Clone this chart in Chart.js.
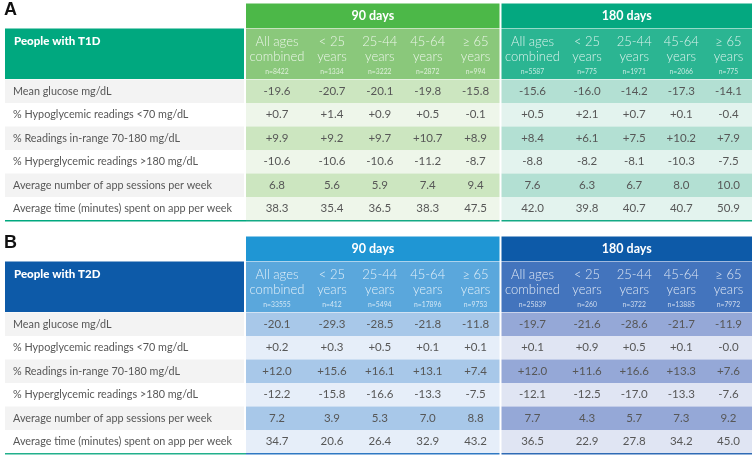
<!DOCTYPE html>
<html><head><meta charset="utf-8">
<script src="https://cdn.jsdelivr.net/npm/chart.js@4.4.1/dist/chart.umd.min.js"></script>
<style>html,body{margin:0;padding:0;background:#fff;}#wrap{width:755px;height:458px;position:relative;}</style>
</head><body><div id="wrap"><canvas id="c"></canvas></div>
<script>
// ---------- DATA ----------
const panelLetters = ["A", "B"];
const groupTitles = ["People with T1D", "People with T2D"];
const periods = ["90 days", "180 days"];
const ageLines = [["All ages", "combined"], ["< 25", "years"], ["25-44", "years"], ["45-64", "years"], ["\u2265 65", "years"]];
const rowLabels = [
  "Mean glucose mg/dL",
  "% Hypoglycemic readings <70 mg/dL",
  "% Readings in-range 70-180 mg/dL",
  "% Hyperglycemic readings >180 mg/dL",
  "Average number of app sessions per week",
  "Average time (minutes) spent on app per week"
];
const signedRows = [true, true, true, true, false, false];

const t1dN90 = ["n=8422", "n=1334", "n=3222", "n=2872", "n=994"];
const t1dN180 = ["n=5587", "n=775", "n=1971", "n=2066", "n=775"];
const t2dN90 = ["n=33555", "n=412", "n=5494", "n=17896", "n=9753"];
const t2dN180 = ["n=25839", "n=260", "n=3722", "n=13885", "n=7972"];

const t1d90 = [
  [-19.6, -20.7, -20.1, -19.8, -15.8],
  [0.7, 1.4, 0.9, 0.5, -0.1],
  [9.9, 9.2, 9.7, 10.7, 8.9],
  [-10.6, -10.6, -10.6, -11.2, -8.7],
  [6.8, 5.6, 5.9, 7.4, 9.4],
  [38.3, 35.4, 36.5, 38.3, 47.5]
];
const t1d180 = [
  [-15.6, -16.0, -14.2, -17.3, -14.1],
  [0.5, 2.1, 0.7, 0.1, -0.4],
  [8.4, 6.1, 7.5, 10.2, 7.9],
  [-8.8, -8.2, -8.1, -10.3, -7.5],
  [7.6, 6.3, 6.7, 8.0, 10.0],
  [42.0, 39.8, 40.7, 40.7, 50.9]
];
const t2d90 = [
  [-20.1, -29.3, -28.5, -21.8, -11.8],
  [0.2, 0.3, 0.5, 0.1, 0.1],
  [12.0, 15.6, 16.1, 13.1, 7.4],
  [-12.2, -15.8, -16.6, -13.3, -7.5],
  [7.2, 3.9, 5.3, 7.0, 8.8],
  [34.7, 20.6, 26.4, 32.9, 43.2]
];
const t2d180 = [
  [-19.7, -21.6, -28.6, -21.7, -11.9],
  [0.1, 0.9, 0.5, 0.1, -0.0],
  [12.0, 11.6, 16.6, 13.3, 7.6],
  [-12.1, -12.5, -17.0, -13.3, -7.6],
  [7.7, 4.3, 5.7, 7.3, 9.2],
  [36.5, 22.9, 27.8, 34.2, 45.0]
];

// ---------- LAYOUT / STYLE ----------
const W = 755, H = 458;
const LAY = { labelX0: 5, labelX1: 244, sections: [[246, 499.5], [501.5, 752]], firstColW: 62,
  headH: 25, subH: 51, rowH: 23.5, tops: [3.5, 236.5] };
const FONT = "Lato, 'Noto Sans', sans-serif";
const THEMES = [
  { title: "#00a87f", head: ["#4cb848", "#04a880"], sub: ["#8ac87b", "#2bb592"],
    dark: ["#cce6c0", "#b3e0d3"], light: ["#eef6ea", "#e3f3ee"], lineL: "#00a87f", lineR: ["#15a985", "#15a985"] },
  { title: "#0d5aa8", head: ["#1f96d4", "#0d5aa8"], sub: ["#5aa7dc", "#4374bd"],
    dark: ["#a8c8e9", "#95a8d7"], light: ["#e6eef9", "#e0e5f3"], lineL: "#22b08c", lineR: ["#2f79c3", "#2f6bb5"] }
];
const tables = [
  { vals: [t1d90, t1d180], ns: [t1dN90, t1dN180] },
  { vals: [t2d90, t2d180], ns: [t2dN90, t2dN180] }
];

function fmt(v, signed) {
  if (Object.is(v, -0)) return "-0.0";
  return (signed && v > 0 ? "+" : "") + v.toFixed(1);
}
function colEdges(sec) {
  const [a, b] = sec; const rest = (b - a - LAY.firstColW) / 4;
  const e = [a, a + LAY.firstColW];
  for (let i = 1; i < 4; i++) e.push(a + LAY.firstColW + rest * i);
  e.push(b); return e;
}

const tablePlugin = {
  id: "tablePlugin",
  afterDraw(chart) {
    const ctx = chart.ctx, xs = chart.scales.x, ys = chart.scales.y;
    const X = v => xs.getPixelForValue(v), Y = v => ys.getPixelForValue(v);
    const rect = (x0, y0, x1, y1, c) => { ctx.fillStyle = c; ctx.fillRect(X(x0), Y(y0), X(x1) - X(x0), Y(y1) - Y(y0)); };
    const text = (s, x, y, font, color, align) => {
      ctx.font = font; ctx.fillStyle = color; ctx.textAlign = align || "center"; ctx.textBaseline = "middle";
      ctx.fillText(s, X(x), Y(y));
    };
    ctx.save();
    tables.forEach((tb, t) => {
      const th = THEMES[t];
      const top = LAY.tops[t];
      const subTop = top + LAY.headH, rowTop = subTop + LAY.subH;
      const bottom = rowTop + LAY.rowH * rowLabels.length;
      text(panelLetters[t], LAY.labelX0 - 1, top + 6.5, "bold 18px 'Liberation Sans', Arial, sans-serif", "#111", "left");
      rect(LAY.labelX0, subTop, LAY.labelX1, rowTop - 0.5, th.title);
      text(groupTitles[t], LAY.labelX0 + 9, subTop + 13, "900 11.5px " + FONT, "#ffffff", "left");
      rowLabels.forEach((lab, r) => {
        const y0 = rowTop + r * LAY.rowH;
        rect(LAY.labelX0, y0, LAY.labelX1, y0 + LAY.rowH, r % 2 === 0 ? "#f3f3f3" : "#ffffff");
        text(lab, LAY.labelX0 + 8, y0 + LAY.rowH / 2, "10.8px " + FONT, "#575757", "left");
      });
      LAY.sections.forEach((sec, s) => {
        const e = colEdges(sec);
        rect(sec[0], top, sec[1], subTop - 0.5, th.head[s]);
        text(periods[s], (sec[0] + sec[1]) / 2, top + LAY.headH / 2, "bold 12.5px " + FONT, "#ffffff");
        rect(sec[0], subTop, sec[1], rowTop - 0.5, th.sub[s]);
        for (let c = 0; c < 5; c++) {
          const cx = (e[c] + e[c + 1]) / 2;
          text(ageLines[c][0], cx, subTop + 13.5, "300 13px " + FONT, "rgba(255,255,255,0.82)");
          text(ageLines[c][1], cx, subTop + 28, "300 13px " + FONT, "rgba(255,255,255,0.82)");
          text(tb.ns[s][c], cx, subTop + 43, "6.8px " + FONT, "rgba(255,255,255,0.72)");
        }
        tb.vals[s].forEach((row, r) => {
          const y0 = rowTop + r * LAY.rowH;
          rect(sec[0], y0, sec[1], y0 + LAY.rowH, r % 2 === 0 ? th.dark[s] : th.light[s]);
          row.forEach((v, c) => {
            text(fmt(v, signedRows[r]), (e[c] + e[c + 1]) / 2, y0 + LAY.rowH / 2, "11.5px " + FONT, "#575757");
          });
        });
        rect(sec[0], bottom - 0.5, sec[1], bottom + 1, th.lineR[s]);
      });
      rect(LAY.labelX0, bottom - 0.5, LAY.labelX1 + 2, bottom + 1, th.lineL);
    });
    ctx.restore();
  }
};

new Chart(document.getElementById("c"), {
  type: "scatter",
  data: { datasets: [{ data: [], pointRadius: 0 }] },
  options: {
    responsive: true, maintainAspectRatio: false, animation: false,
    layout: { padding: 0 },
    plugins: { legend: { display: false }, tooltip: { enabled: false } },
    scales: {
      x: { type: "linear", min: 0, max: W, display: false },
      y: { type: "linear", min: 0, max: H, reverse: true, display: false }
    }
  },
  plugins: [tablePlugin]
});
</script></body></html>
